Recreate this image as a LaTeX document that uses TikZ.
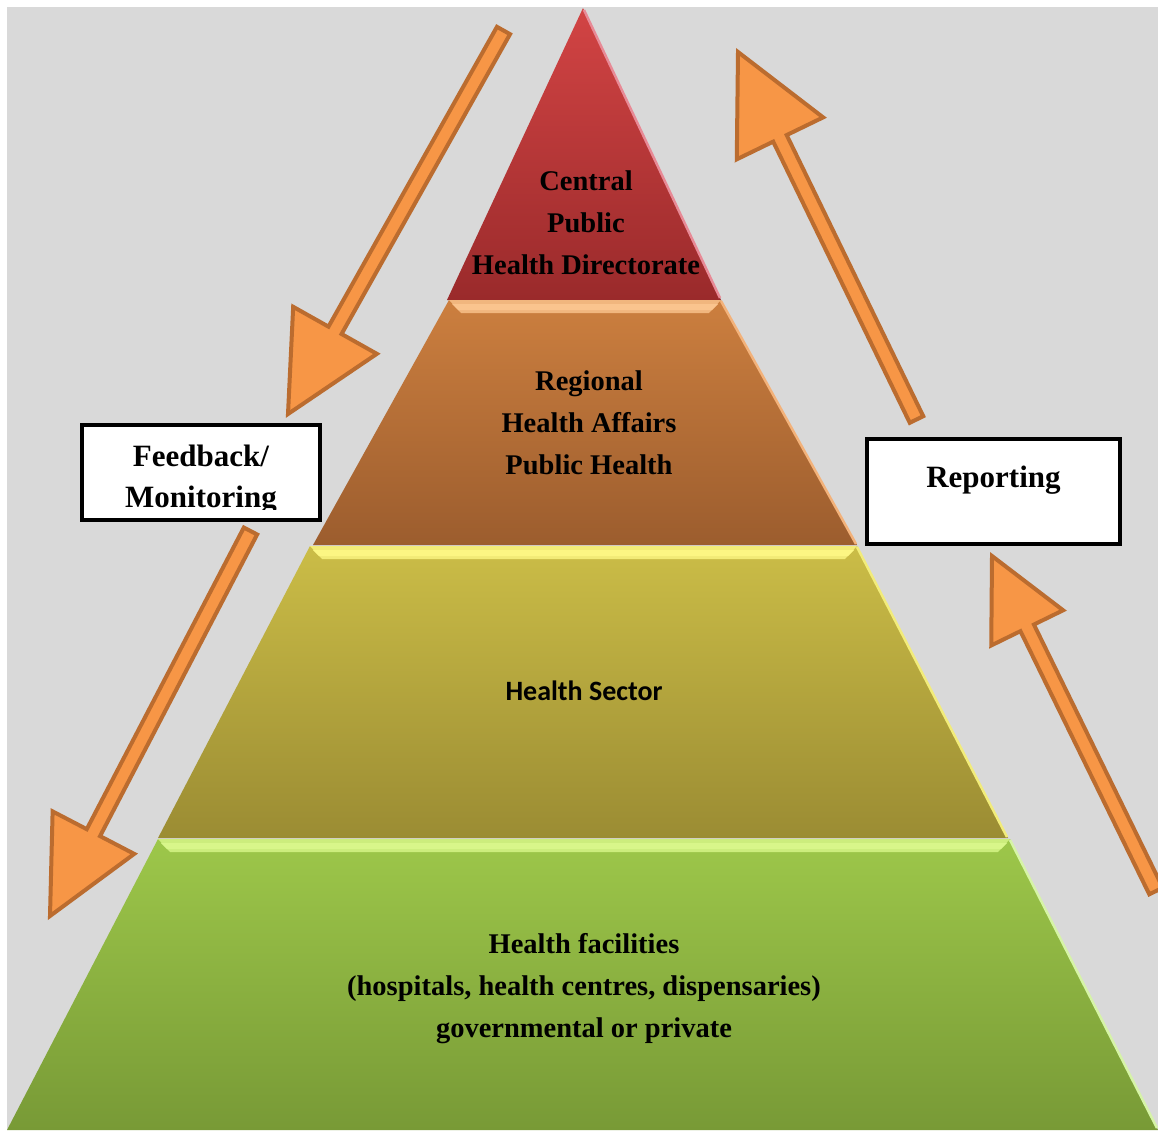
\documentclass[tikz,border=0pt]{standalone}
\usepackage{fontspec}
\setmainfont{Liberation Serif}
\newfontfamily\calibfont{Carlito}
\usetikzlibrary{calc}
\definecolor{bggray}{HTML}{D9D9D9}
\definecolor{redtop}{HTML}{D24444}
\definecolor{redbot}{HTML}{9A2A2B}
\definecolor{rededge}{HTML}{E88A96}
\definecolor{ortop}{HTML}{CC7F3F}
\definecolor{orbot}{HTML}{9C5D2E}
\definecolor{orlight}{HTML}{FAC48E}
\definecolor{oredge}{HTML}{F3B27A}
\definecolor{yetop}{HTML}{CBBD47}
\definecolor{yebot}{HTML}{9B8C33}
\definecolor{yelight}{HTML}{FCF683}
\definecolor{yeedge}{HTML}{F2EC7A}
\definecolor{grtop}{HTML}{9DC74A}
\definecolor{grbot}{HTML}{789A36}
\definecolor{grlight}{HTML}{D8F68A}
\definecolor{gredge}{HTML}{D6F4A6}
\definecolor{arrowfill}{HTML}{F79646}
\definecolor{arrowline}{HTML}{BB6C2F}
\newcommand\blockarrow[6]{%
  \coordinate (#1t) at #2;
  \coordinate (#1p) at #3;
  \coordinate (#1b) at ($(#1p)!#6!(#1t)$);
  \filldraw[arrowshape]
    ($(#1t)!#4!90:(#1p)$) -- ($(#1b)!#4!90:(#1p)$) -- ($(#1b)!#5!90:(#1p)$)
    -- (#1p) -- ($(#1b)!#5!-90:(#1p)$) -- ($(#1b)!#4!-90:(#1p)$)
    -- ($(#1t)!#4!-90:(#1p)$) -- cycle;
}
\begin{document}
\begin{tikzpicture}[x=1pt,y=-1pt,
  arrowshape/.style={fill=arrowfill, draw=arrowline, line width=4pt},
  box/.style={draw=black, fill=white, line width=4pt, inner sep=0pt, align=center,
    font=\fontsize{31}{41}\selectfont\bfseries},
  boxtext/.style={inner sep=0pt, align=center, font=\fontsize{31}{41}\selectfont\bfseries},
  tiertext/.style={align=center, inner sep=0pt,
    font=\fontsize{28.5}{42}\selectfont\bfseries},
  edgehl/.style={line width=2.5pt}
]
\useasboundingbox (0,0) rectangle (1158,1130);
\fill[bggray] (7,7) rectangle (1158,1130);

% tiers
\shade[top color=redtop, bottom color=redbot] (583,8) -- (721,300) -- (447,300) -- cycle;
\shade[top color=ortop, bottom color=orbot] (449,300) -- (721,300) -- (857,545) -- (313,545) -- cycle;
\shade[top color=yetop, bottom color=yebot] (310,546) -- (857,546) -- (1008,838) -- (158,838) -- cycle;
\shade[top color=grtop, bottom color=grbot] (158,839) -- (1010,839) -- (1158,1130) -- (7,1130) -- cycle;

% bevel strips
\fill[orlight!80!ortop] (449,300) -- (721,300) -- (709,313) -- (461,313) -- cycle;
\fill[orlight] (452,304) -- (718,304) -- (712,310) -- (458,310) -- cycle;
\fill[yelight!80!yetop] (310,546) -- (857,546) -- (845,559) -- (322,559) -- cycle;
\fill[yelight] (313,550) -- (854,550) -- (848,556) -- (319,556) -- cycle;
\fill[grlight!80!grtop] (158,839) -- (1010,839) -- (998,852) -- (170,852) -- cycle;
\fill[grlight] (161,843) -- (1007,843) -- (1001,849) -- (167,849) -- cycle;

% right edge highlights
\draw[edgehl, rededge] (584,10) -- (720,298);
\draw[edgehl, oredge] (721,301) -- (856,544);
\draw[edgehl, yeedge] (857,547) -- (1007,837);
\draw[edgehl, gredge] (1010,840) -- (1157,1128);

% tier texts
\node[tiertext] (central) at (586,223) {Central\\Public\\Health Directorate};
\node[tiertext] (regional) at (589,423) {Regional\\Health Affairs\\Public Health};
\node[tiertext, font=\fontsize{28}{34}\selectfont\calibfont\bfseries] (sector) at (584,691) {Health Sector};
\node[tiertext] (facilities) at (584,989) {Health facilities\\(hospitals, health centres, dispensaries)\\governmental or private};

% arrows
\blockarrow{a}{(503.5,30.5)}{(288,414)}{7.5pt}{48pt}{96pt}
\blockarrow{b}{(250.5,531)}{(50,916)}{7.5pt}{46pt}{94pt}
\blockarrow{c}{(916.5,419.5)}{(738,52)}{7.5pt}{48pt}{96pt}
\blockarrow{d}{(1156,891)}{(992,556)}{7.5pt}{40pt}{80pt}

% boxes
\node[box, minimum width=238pt, minimum height=95pt] (feedback) at (201,472.5) {};
\begin{scope}
  \clip (84,427) rectangle (318,509);
  \node[boxtext] (feedbacklabel) at (201,479.5) {Feedback/\\Monitoring};
\end{scope}
\node[box, minimum width=253pt, minimum height=105pt, text depth=30pt] (reporting) at (993.5,491.5) {Reporting};
\end{tikzpicture}
\end{document}
